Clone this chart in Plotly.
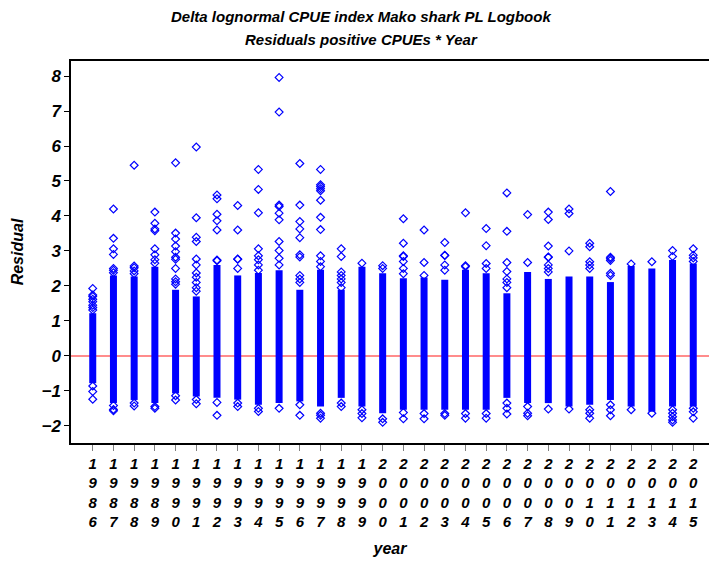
import plotly.graph_objects as go

years = list(range(1986, 2016))

# dense core of residuals per year (low, high)
core_lo = [-0.78, -1.35, -1.26, -1.35, -1.07, -1.16, -1.20, -1.25, -1.40, -1.35,
           -1.30, -1.45, -1.20, -1.45, -1.64, -1.54, -1.54, -1.54, -1.54, -1.54,
           -1.20, -1.35, -1.35, -1.45, -1.40, -1.26, -1.45, -1.60, -1.45, -1.45]
core_hi = [1.22, 2.30, 2.27, 2.55, 1.89, 1.70, 2.60, 2.30, 2.37, 2.45,
           1.89, 2.46, 1.89, 2.55, 2.36, 2.22, 2.24, 2.18, 2.46, 2.36,
           1.79, 2.40, 2.20, 2.27, 2.27, 2.11, 2.57, 2.50, 2.74, 2.64]

# individually visible residuals per year
points = [
    [1.93, 1.74, 1.70, 1.62, 1.55, 1.45, 1.38, 1.31, -0.86, -1.02, -1.24],
    [4.20, 3.36, 3.06, 2.90, 2.50, 2.45, 2.38, -1.42, -1.53, -1.57],
    [5.45, 2.57, 2.52, 2.43, 2.35, -1.35, -1.43],
    [4.11, 3.79, 3.63, 3.58, 3.06, 2.89, 2.75, 2.65, -1.45, -1.50],
    [5.52, 3.51, 3.34, 3.14, 2.98, 2.82, 2.76, 2.50, 2.20, 2.12, 2.05, -1.14, -1.26],
    [5.97, 3.95, 3.39, 3.27, 2.77, 2.60, 2.37, 2.25, 2.10, 1.95, 1.85, -1.25, -1.37],
    [4.60, 4.49, 4.05, 3.86, 3.60, 2.74, 2.72, -1.33, -1.70],
    [4.30, 3.60, 2.77, 2.76, 2.50, -1.35, -1.45],
    [5.33, 4.76, 4.09, 3.06, 2.86, 2.75, 2.60, 2.45, -1.50, -1.59],
    [7.96, 6.97, 4.31, 4.27, 4.08, 3.89, 3.27, 3.01, 2.79, 2.60, -1.50],
    [5.50, 4.31, 3.84, 3.63, 3.38, 2.89, 2.83, 2.30, 2.20, 2.10, -1.40, -1.70],
    [5.33, 4.89, 4.84, 4.78, 4.72, 4.45, 3.96, 3.61, 2.86, 2.70, 2.55, -1.64, -1.70, -1.78],
    [3.06, 2.84, 2.40, 2.30, 2.20, 2.10, 1.95, -1.35, -1.45],
    [2.65, -1.54, -1.65, -1.77],
    [2.58, 2.50, -1.80, -1.90],
    [3.92, 3.22, 2.86, 2.84, 2.70, 2.50, 2.35, -1.62, -1.80],
    [3.60, 2.67, 2.30, -1.65, -1.80],
    [3.24, 2.88, 2.87, 2.60, 2.45, -1.65, -1.70],
    [4.09, 2.58, 2.55, -1.65, -1.78],
    [3.64, 3.15, 2.64, 2.50, -1.65, -1.78],
    [4.66, 3.56, 2.67, 2.41, 2.20, 2.10, 1.95, -1.35, -1.50, -1.66],
    [4.04, 2.67, -1.45, -1.64, -1.71],
    [4.11, 3.90, 3.14, 2.83, 2.82, 2.60, 2.50, 2.40, -1.52],
    [4.20, 4.07, 3.00, -1.52],
    [3.22, 3.12, 2.69, 2.60, 2.50, -1.54, -1.64, -1.78],
    [4.70, 2.82, 2.78, 2.73, 2.36, 2.30, -1.40, -1.54, -1.71],
    [2.63, -1.54],
    [2.69, -1.64],
    [3.01, 2.84, -1.54, -1.64, -1.74, -1.83, -1.90],
    [3.06, 2.88, 2.80, 2.70, -1.50, -1.60, -1.78],
]

y_ticks = list(range(-2, 9))
title_lines = ["Delta lognormal CPUE index Mako shark PL Logbook",
               "Residuals positive CPUEs * Year"]

FONT = "Liberation Sans"
BLUE = "#0000ff"

# build traces
cx, cy = [], []
for yr, lo, hi in zip(years, core_lo, core_hi):
    cx += [yr, yr, None]
    cy += [lo, hi, None]

px, py = [], []
for yr, pts in zip(years, points):
    for v in pts:
        px.append(yr)
        py.append(v)

fig = go.Figure()
fig.add_trace(go.Scatter(x=cx, y=cy, mode="lines",
                         line=dict(color=BLUE, width=7), hoverinfo="skip",
                         showlegend=False))
fig.add_trace(go.Scatter(x=px, y=py, mode="markers",
                         marker=dict(symbol="diamond-open", size=6, color=BLUE,
                                     line=dict(width=1.2, color=BLUE)),
                         showlegend=False))

fig.add_shape(type="line", xref="paper", yref="y", x0=0, x1=1, y0=0, y1=0,
              line=dict(color="#ff6666", width=1.5), layer="below")

# title lines as annotations
for text, ypix in zip(title_lines, [17, 39]):
    fig.add_annotation(text=text, xref="paper", yref="paper",
                       x=(361 - 71) / 638, y=(443 - ypix) / 382,
                       xanchor="center", yanchor="middle", showarrow=False,
                       font=dict(family=FONT, size=15, weight="bold",
                                 style="italic", color="black"))

ticktext = ["<br>".join(str(y)) for y in years]

fig.update_layout(
    width=709, height=562,
    margin=dict(l=71, r=0, t=61, b=119),
    paper_bgcolor="white", plot_bgcolor="white",
    font=dict(family=FONT, color="black"),
    xaxis=dict(
        range=[1984.95, 2015.76],
        tickmode="array", tickvals=years, ticktext=ticktext,
        ticks="outside", ticklen=6, tickcolor="#808080", tickwidth=1,
        showline=True, linecolor="black", linewidth=1.5, mirror=True,
        showgrid=False, zeroline=False,
        tickfont=dict(family=FONT, size=15, weight="bold", style="italic", color="black"),
        title=dict(text="year", standoff=14,
                   font=dict(family=FONT, size=16, weight="bold", style="italic", color="black")),
    ),
    yaxis=dict(
        range=[-2.49, 8.43],
        tickmode="array", tickvals=y_ticks,
        ticks="outside", ticklen=5, tickcolor="black", tickwidth=1,
        showline=True, linecolor="black", linewidth=1.5,
        showgrid=False, zeroline=False,
        tickfont=dict(family=FONT, size=17, weight="bold", style="italic", color="black"),
        title=dict(text="Residual", standoff=14,
                   font=dict(family=FONT, size=16, weight="bold", style="italic", color="black")),
    ),
)

fig.write_html("out.html")
